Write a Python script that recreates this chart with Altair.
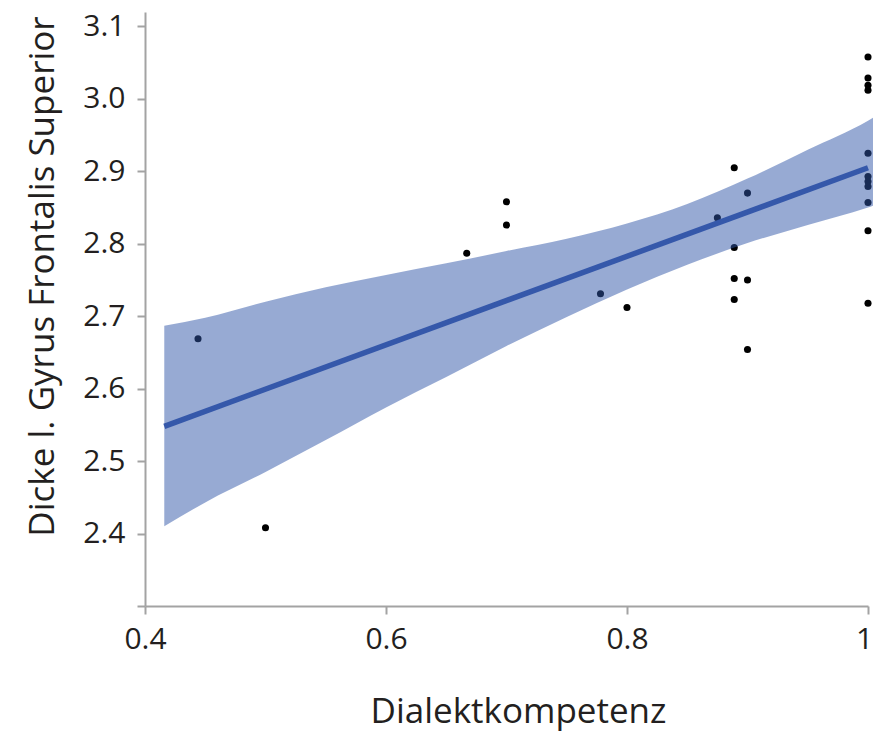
import altair as alt
import pandas as pd

# ---- data ----
dialekt = [0.444, 0.5, 0.667, 0.7, 0.7, 0.778, 0.8, 0.875, 0.889, 0.9,
           0.889, 0.889, 0.9, 0.889, 0.9,
           1.0, 1.0, 1.0, 1.0, 1.0, 1.0, 1.0, 1.0, 1.0, 1.0, 1.0]
dicke = [2.669, 2.408, 2.787, 2.858, 2.826, 2.731, 2.712, 2.836, 2.905, 2.870,
         2.795, 2.752, 2.750, 2.723, 2.654,
         3.058, 3.029, 3.019, 3.012, 2.925, 2.893, 2.886, 2.879, 2.857, 2.818, 2.718]

fit_x = [0.416, 1.0]
fit_y = [2.548, 2.905]

band_x = [0.416, 0.45, 0.5, 0.55, 0.6, 0.65, 0.7, 0.75, 0.8, 0.85, 0.9, 0.95, 1.0, 1.01]
band_lo = [2.410, 2.443, 2.485, 2.529, 2.574, 2.616, 2.659, 2.699, 2.737, 2.771, 2.801, 2.826, 2.850, 2.856]
band_hi = [2.687, 2.698, 2.720, 2.740, 2.757, 2.773, 2.790, 2.807, 2.828, 2.855, 2.890, 2.930, 2.970, 2.980]

x_ticks = [0.4, 0.6, 0.8, 1.0]
y_ticks = [2.3, 2.4, 2.5, 2.6, 2.7, 2.8, 2.9, 3.0, 3.1]

pts = pd.DataFrame({"x": dialekt, "y": dicke})
fit = pd.DataFrame({"x": fit_x, "y": fit_y})
band = pd.DataFrame({"x": band_x, "lo": band_lo, "hi": band_hi})

xscale = alt.Scale(domain=[0.4, 1.0], nice=False, zero=False)
yscale = alt.Scale(domain=[2.3, 3.12], nice=False, zero=False)

xaxis = alt.Axis(
    title="Dialektkompetenz",
    values=x_ticks,
    labelExpr="datum.value == 1 ? '1' : format(datum.value, '.1f')",
    labelFlush=False,
    labelPadding=10,
    labelOffset=alt.ConditionalAxisNumber(
        condition={"test": "datum.value == 1", "value": -4}, value=0
    ),
    titleX=373, titleY=116,
    titleBaseline="alphabetic", titleAlign="center",
)
yaxis = alt.Axis(
    title="Dicke l. Gyrus Frontalis Superior",
    values=y_ticks,
    labelExpr="datum.value < 2.35 ? '' : format(datum.value, '.1f')",
    labelFlush=False,
    labelPadding=12,
    titleAngle=270,
    titleX=-92, titleY=264,
    titleBaseline="alphabetic", titleAlign="center",
)

points = alt.Chart(pts).mark_circle(size=50, color="black", opacity=1).encode(
    x=alt.X("x:Q", scale=xscale, axis=xaxis),
    y=alt.Y("y:Q", scale=yscale, axis=yaxis),
)

area = alt.Chart(band).mark_area(color="#2f55a8", opacity=0.5, interpolate="monotone").encode(
    x=alt.X("x:Q", scale=xscale),
    y=alt.Y("lo:Q", scale=yscale),
    y2="hi:Q",
)

line = alt.Chart(fit).mark_line(color="#3558aa", strokeWidth=5.5).encode(
    x=alt.X("x:Q", scale=xscale),
    y=alt.Y("y:Q", scale=yscale),
)

chart = (
    alt.layer(points, area, line)
    .properties(
        width=723,
        height=594,
        autosize=alt.AutoSizeParams(type="none"),
        padding={"left": 137, "top": 4, "right": 5, "bottom": 126},
    )
    .configure_view(stroke=None)
    .configure_axis(
        grid=False,
        domainColor="#a3a3a3",
        domainWidth=2,
        tickColor="#a3a3a3",
        tickWidth=2,
        tickSize=8,
        labelFont="Open Sans",
        labelFontSize=30,
        labelColor="#231f20",
        titleFont="Open Sans",
        titleFontSize=35,
        titleFontWeight="normal",
        titleColor="#231f20",
    )
)

chart.save("out.html", embed_options={"renderer": "svg", "actions": False})
